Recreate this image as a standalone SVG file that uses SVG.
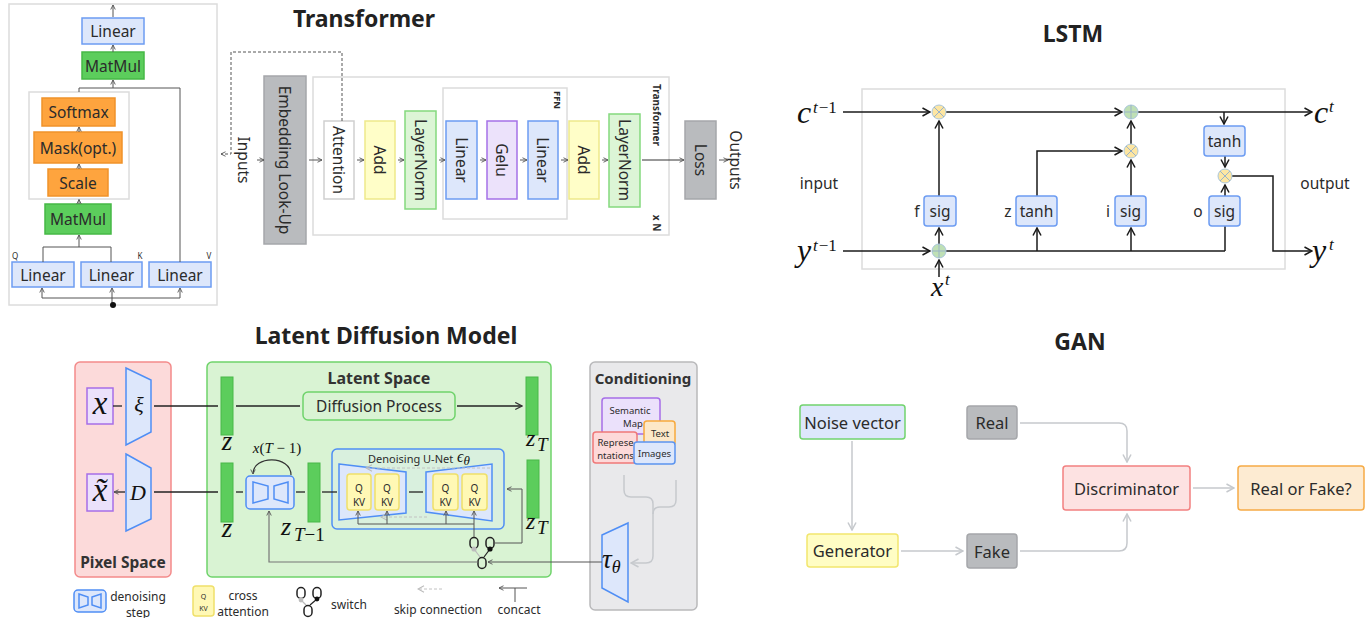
<svg xmlns="http://www.w3.org/2000/svg" width="1368" height="618" viewBox="0 0 1368 618">
<style>
text{font-family:"Noto Sans","DejaVu Sans",sans-serif;fill:#2b2b2b}
.t{font-size:15.5px;text-anchor:middle;dominant-baseline:central}
.title{font-size:23px;font-weight:700;text-anchor:middle;dominant-baseline:central;fill:#222}
.h{font-size:15.5px;font-weight:700;text-anchor:middle;dominant-baseline:central;fill:#333}
.sm{font-size:9.5px;text-anchor:middle;dominant-baseline:central}
.lg{font-size:12px;text-anchor:middle;dominant-baseline:central}
.m{font-family:"Liberation Serif","DejaVu Serif",serif;font-style:italic;fill:#111}
.mr{font-family:"Liberation Serif","DejaVu Serif",serif;font-style:normal;fill:#111}
.frame{fill:#fff;stroke:#dcdcdc;stroke-width:1.5}
.lin{fill:#dde7fb;stroke:#6c9cf2;stroke-width:1.5}
.mm{fill:#5ccd5c;stroke:#46b846;stroke-width:1.5}
.org{fill:#fea43e;stroke:#f0922a;stroke-width:1.5}
.add{fill:#fffec8;stroke:#eee98a;stroke-width:1.5}
.ln{fill:#dcf5d6;stroke:#84d97e;stroke-width:1.5}
.gelu{fill:#ece2fb;stroke:#a571e7;stroke-width:1.5}
.gray{fill:#b9bbbe;stroke:#a5a7aa;stroke-width:1.5}
.w{fill:none;stroke:#555;stroke-width:1}
.k{fill:none;stroke:#1a1a1a;stroke-width:1.5}
.gate{fill:#dde7fb;stroke:#6c9cf2;stroke-width:1.5}
.mul{fill:#fde6a2;stroke:#a9c6dc;stroke-width:1}
.plus{fill:#bfe0b5;stroke:#a9c6dc;stroke-width:1}
.cx{stroke:#9ab3c8;stroke-width:1;fill:none}
.enc{fill:#dde7fb;stroke:#4f8ef5;stroke-width:1.5}
.bar{fill:#5ccd5c;stroke:#49b849;stroke-width:1}
.qkv{fill:#fff8b5;stroke:#f0e06a;stroke-width:1.5}
.lat{fill:none;stroke:#222;stroke-width:1.3}
.sw{fill:none;stroke:#222;stroke-width:1.5}
.gl{fill:none;stroke:#c6c9cd;stroke-width:1.5}
</style>
<defs>
<marker id="a1" viewBox="0 0 8 8" refX="7" refY="4" markerWidth="6" markerHeight="6" orient="auto" markerUnits="userSpaceOnUse"><path d="M1,1 L7,4 L1,7" fill="none" stroke="#555" stroke-width="1.2"/></marker>
<marker id="ak" viewBox="0 0 10 10" refX="9" refY="5" markerWidth="10" markerHeight="10" orient="auto" markerUnits="userSpaceOnUse"><path d="M1.5,1 L9,5 L1.5,9" fill="none" stroke="#1a1a1a" stroke-width="1.5"/></marker>
<marker id="ag" viewBox="0 0 10 10" refX="9" refY="5" markerWidth="10" markerHeight="10" orient="auto" markerUnits="userSpaceOnUse"><path d="M1.5,1 L9,5 L1.5,9" fill="none" stroke="#c6c9cd" stroke-width="1.5"/></marker>
<marker id="am" viewBox="0 0 10 10" refX="9" refY="5" markerWidth="9" markerHeight="9" orient="auto" markerUnits="userSpaceOnUse"><path d="M1.5,1 L9,5 L1.5,9" fill="none" stroke="#333" stroke-width="1.3"/></marker>
<marker id="as" viewBox="0 0 10 10" refX="9" refY="5" markerWidth="8" markerHeight="8" orient="auto" markerUnits="userSpaceOnUse"><path d="M1.5,1 L9,5 L1.5,9" fill="none" stroke="#bbb" stroke-width="1.3"/></marker>
</defs>
<rect width="1368" height="618" fill="#fff"/>

<!-- ===== Transformer: scaled dot-product attention detail ===== -->
<g id="attn-frame"><rect x="9" y="4" width="208" height="301" class="frame"/></g>
<g id="attn-inner-frame"><rect x="29" y="92" width="100" height="107" class="frame"/></g>
<g id="attn-linear-out"><rect x="82" y="18" width="62" height="26" class="lin"/><text x="113" y="31" class="t">Linear</text></g>
<g id="attn-matmul-out"><rect x="82" y="52" width="62" height="27" class="mm"/><text x="113" y="65.5" class="t">MatMul</text></g>
<g id="attn-softmax"><rect x="42" y="98" width="73" height="28" class="org"/><text x="78.5" y="112" class="t">Softmax</text></g>
<g id="attn-mask"><rect x="34" y="132" width="88" height="31" class="org"/><text x="78" y="147.5" class="t">Mask(opt.)</text></g>
<g id="attn-scale"><rect x="48" y="169" width="60" height="27" class="org"/><text x="78" y="182.5" class="t">Scale</text></g>
<g id="attn-matmul-qk"><rect x="45" y="204" width="66" height="30" class="mm"/><text x="78" y="219" class="t">MatMul</text></g>
<g id="attn-linear-q"><rect x="12" y="262" width="62" height="25" class="lin"/><text x="43" y="274.5" class="t">Linear</text><text x="15" y="255" style="font-size:8px;text-anchor:middle;dominant-baseline:central">Q</text></g>
<g id="attn-linear-k"><rect x="81" y="262" width="61" height="25" class="lin"/><text x="111.5" y="274.5" class="t">Linear</text><text x="140" y="255" style="font-size:8px;text-anchor:middle;dominant-baseline:central">K</text></g>
<g id="attn-linear-v"><rect x="149" y="262" width="62" height="25" class="lin"/><text x="180" y="274.5" class="t">Linear</text><text x="209" y="255" style="font-size:8px;text-anchor:middle;dominant-baseline:central">V</text></g>
<g id="attn-connectors" class="w">
<path d="M113,17 V5" marker-end="url(#a1)"/>
<path d="M113,52 V45" marker-end="url(#a1)"/>
<path d="M79,92 V88 H180 V262"/>
<path d="M113,88 V80" marker-end="url(#a1)"/>
<path d="M79,132 V127" marker-end="url(#a1)"/>
<path d="M79,169 V164" marker-end="url(#a1)"/>
<path d="M79,204 V199.5" marker-end="url(#a1)"/>
<path d="M43,262 V247 H111 V262"/>
<path d="M79,247 V235" marker-end="url(#a1)"/>
<path d="M42,298 H180"/>
<path d="M42,298 V288" marker-end="url(#a1)"/>
<path d="M112,305 V288" marker-end="url(#a1)"/>
<path d="M180,298 V288" marker-end="url(#a1)"/>
<circle cx="113" cy="305" r="3" fill="#111" stroke="none"/>
</g>

<!-- ===== Transformer: main stack ===== -->
<text x="364" y="18" class="title">Transformer</text>
<g id="tf-frame"><rect x="313" y="77" width="356" height="158" class="frame"/>
<text transform="translate(657,115) rotate(90)" style="font-size:10px;font-weight:700;text-anchor:middle;dominant-baseline:central">Transformer</text>
<text transform="translate(657,223) rotate(90)" style="font-size:10px;font-weight:700;text-anchor:middle;dominant-baseline:central">x N</text></g>
<g id="tf-ffn-frame"><rect x="443" y="88" width="124" height="131" class="frame"/>
<text transform="translate(557,100) rotate(90)" style="font-size:9.5px;font-weight:700;text-anchor:middle;dominant-baseline:central">FFN</text></g>
<g id="tf-inputs"><text transform="translate(244,160) rotate(90)" class="t">Inputs</text></g>
<g id="tf-embedding"><rect x="264" y="76" width="42" height="168" class="gray"/><text transform="translate(285,160) rotate(90)" class="t">Embedding Look-Up</text></g>
<g id="tf-attention"><rect x="324" y="121" width="30" height="78" fill="#fff" stroke="#cfcfcf" stroke-width="1.5"/><text transform="translate(339,160) rotate(90)" class="t">Attention</text></g>
<g id="tf-add1"><rect x="365" y="121" width="30" height="78" class="add"/><text transform="translate(380,160) rotate(90)" class="t">Add</text></g>
<g id="tf-layernorm1"><rect x="405" y="111" width="31" height="98" class="ln"/><text transform="translate(420.5,160) rotate(90)" class="t">LayerNorm</text></g>
<g id="tf-linear1"><rect x="446" y="121" width="31" height="78" class="lin"/><text transform="translate(461.5,160) rotate(90)" class="t">Linear</text></g>
<g id="tf-gelu"><rect x="487" y="121" width="30" height="78" class="gelu"/><text transform="translate(502,160) rotate(90)" class="t">Gelu</text></g>
<g id="tf-linear2"><rect x="528" y="121" width="30" height="78" class="lin"/><text transform="translate(543,160) rotate(90)" class="t">Linear</text></g>
<g id="tf-add2"><rect x="569" y="121" width="30" height="78" class="add"/><text transform="translate(584,160) rotate(90)" class="t">Add</text></g>
<g id="tf-layernorm2"><rect x="609" y="114" width="31" height="93" class="ln"/><text transform="translate(624.5,160) rotate(90)" class="t">LayerNorm</text></g>
<g id="tf-loss"><rect x="685" y="121" width="31" height="78" class="gray"/><text transform="translate(700.5,160) rotate(90)" class="t">Loss</text></g>
<g id="tf-outputs"><text transform="translate(736,160) rotate(90)" class="t">Outputs</text></g>
<g id="tf-connectors" class="w">
<path d="M342,121 V52 H231 V154 H221" stroke-dasharray="3,2" marker-end="url(#a1)"/>
<path d="M257,160 H264" marker-end="url(#a1)"/>
<path d="M309,160 H322" marker-end="url(#a1)"/>
<path d="M357,160 H364" marker-end="url(#a1)"/>
<path d="M398,160 H404" marker-end="url(#a1)"/>
<path d="M439,160 H445" marker-end="url(#a1)"/>
<path d="M480,160 H486" marker-end="url(#a1)"/>
<path d="M520,160 H527" marker-end="url(#a1)"/>
<path d="M561,160 H568" marker-end="url(#a1)"/>
<path d="M602,160 H608" marker-end="url(#a1)"/>
<path d="M642,160 H684" stroke="#333" marker-end="url(#a1)"/>
<path d="M719,160 H728" marker-end="url(#a1)"/>
</g>

<!-- ===== LSTM cell ===== -->
<text x="1073" y="33" class="title">LSTM</text>
<g id="lstm-frame"><rect x="862" y="89" width="423" height="180" class="frame"/></g>
<g id="lstm-connectors" class="k">
<path d="M843,112 H930" marker-end="url(#ak)"/>
<path d="M946,112 H1122" marker-end="url(#ak)"/>
<path d="M1138,112 H1312" marker-end="url(#ak)"/>
<path d="M1224,112 V124" marker-end="url(#ak)"/>
<path d="M1225,156 V167" marker-end="url(#ak)"/>
<path d="M1232,176 H1273 V251 H1312" marker-end="url(#ak)"/>
<path d="M1225,251 V197" marker-end="url(#ak)"/>
<path d="M1225,196 V185" marker-end="url(#ak)"/>
<path d="M843,251 H930" marker-end="url(#ak)"/>
<path d="M939,277 V260" marker-end="url(#ak)"/>
<path d="M939,244 V228" marker-end="url(#ak)"/>
<path d="M939,196 V121" marker-end="url(#ak)"/>
<path d="M946,251 H1225"/>
<path d="M1037,251 V228" marker-end="url(#ak)"/>
<path d="M1131,251 V228" marker-end="url(#ak)"/>
<path d="M1037,196 V151 H1122" marker-end="url(#ak)"/>
<path d="M1131,196 V160" marker-end="url(#ak)"/>
<path d="M1131,144 V121" marker-end="url(#ak)"/>
</g>
<g id="lstm-mul-f"><circle cx="939" cy="112" r="7" class="mul"/><path d="M934,107 L944,117 M944,107 L934,117" class="cx"/></g>
<g id="lstm-add-c"><circle cx="1131" cy="112" r="7" class="plus"/><path d="M1124,112 H1138 M1131,105 V119" class="cx"/></g>
<g id="lstm-mul-i"><circle cx="1131" cy="151" r="7" class="mul"/><path d="M1126,146 L1136,156 M1136,146 L1126,156" class="cx"/></g>
<g id="lstm-mul-o"><circle cx="1225" cy="176" r="7" class="mul"/><path d="M1220,171 L1230,181 M1230,171 L1220,181" class="cx"/></g>
<g id="lstm-add-in"><circle cx="939" cy="251" r="7" class="plus"/><path d="M932,251 H946 M939,244 V258" class="cx"/></g>
<g id="lstm-f"><rect x="924" y="196" width="32" height="30" rx="3" class="gate"/><text x="940" y="211" class="t">sig</text><text x="917" y="211" class="t">f</text></g>
<g id="lstm-z"><rect x="1016" y="196" width="41" height="30" rx="3" class="gate"/><text x="1036.5" y="211" class="t">tanh</text><text x="1008" y="211" class="t">z</text></g>
<g id="lstm-i"><rect x="1115" y="196" width="31" height="30" rx="3" class="gate"/><text x="1130.5" y="211" class="t">sig</text><text x="1108" y="211" class="t">i</text></g>
<g id="lstm-o"><rect x="1209" y="196" width="31" height="30" rx="3" class="gate"/><text x="1224.5" y="211" class="t">sig</text><text x="1198" y="211" class="t">o</text></g>
<g id="lstm-tanh-c"><rect x="1204" y="126" width="41" height="30" rx="3" class="gate"/><text x="1224.5" y="141" class="t">tanh</text></g>
<g id="lstm-labels">
<text x="819" y="183" class="t">input</text>
<text x="1325" y="183" class="t">output</text>
<text x="797" y="123" class="m" font-size="32">c</text>
<text x="813" y="113" font-size="17"><tspan class="m">t</tspan><tspan class="mr" dx="1">−1</tspan></text>
<text x="797" y="261" class="m" font-size="32">y</text>
<text x="813" y="251" font-size="17"><tspan class="m">t</tspan><tspan class="mr" dx="1">−1</tspan></text>
<text x="931" y="296" class="m" font-size="28">x</text>
<text x="945" y="285" class="m" font-size="17">t</text>
<text x="1314" y="123" class="m" font-size="32">c</text>
<text x="1329" y="112" class="m" font-size="17">t</text>
<text x="1312" y="261" class="m" font-size="32">y</text>
<text x="1329" y="250" class="m" font-size="17">t</text>
</g>

<!-- ===== Latent Diffusion Model ===== -->
<text x="386" y="335" class="title">Latent Diffusion Model</text>

<g id="pixel-space">
<rect x="75" y="362" width="96" height="215" rx="5" fill="#fcdada" stroke="#f38b8b" stroke-width="1.5"/>
<text x="123" y="562" class="h">Pixel Space</text>
</g>
<g id="latent-space">
<rect x="207" y="362" width="344" height="215" rx="5" fill="#d9f3d3" stroke="#6fd36b" stroke-width="1.5"/>
<text x="379" y="378" class="h" style="font-size:16px">Latent Space</text>
</g>
<g id="conditioning">
<rect x="590" y="362" width="107" height="248" rx="5" fill="#e9e9eb" stroke="#b9b9bb" stroke-width="1.5"/>
<text x="643" y="378" class="h" style="font-size:15px">Conditioning</text>
</g>

<g id="pix-x"><rect x="87" y="388" width="26" height="36" fill="#ebe1fb" stroke="#a66ee8" stroke-width="1.5"/><text x="100" y="414" class="m" font-size="33" text-anchor="middle">x</text></g>
<g id="pix-encoder"><polygon points="126,368 151,380 151,432 126,445" class="enc"/><text x="139" y="412" class="m" font-size="22" text-anchor="middle">ξ</text></g>
<g id="pix-xtilde"><rect x="87" y="474" width="26" height="37" fill="#ebe1fb" stroke="#a66ee8" stroke-width="1.5"/><text x="100" y="501" class="m" font-size="33" text-anchor="middle">x̃</text></g>
<g id="pix-decoder"><polygon points="126,454 151,468 151,519 126,531" class="enc"/><text x="138" y="500" class="m" font-size="22" text-anchor="middle">D</text></g>

<g id="lat-z-top"><rect x="221" y="377" width="12" height="58" class="bar"/><text x="227" y="450" class="m" font-size="27" text-anchor="middle">z</text></g>
<g id="lat-diffusion"><rect x="303" y="392" width="152" height="28" rx="5" fill="#d9f3d3" stroke="#6fd36b" stroke-width="1.5"/><text x="379" y="406" class="t">Diffusion Process</text></g>
<g id="lat-zt-top"><rect x="526" y="377" width="12" height="58" class="bar"/><text x="526" y="446" class="m" font-size="24">z</text><text x="537" y="451" class="m" font-size="19">T</text></g>
<g id="lat-z-bottom"><rect x="221" y="463" width="12" height="59" class="bar"/><text x="227" y="537" class="m" font-size="27" text-anchor="middle">z</text></g>
<g id="lat-step">
<rect x="246" y="476" width="48" height="33" rx="4" class="enc"/>
<polygon points="253,482 268,486 268,499 253,503" class="enc"/>
<polygon points="274,486 288,482 288,503 274,499" class="enc"/>
<text x="277" y="453" class="m" font-size="15" text-anchor="middle">x<tspan class="mr">(</tspan>T<tspan class="mr"> − 1)</tspan></text>
</g>
<g id="lat-zt1"><rect x="308" y="463" width="12" height="59" class="bar"/><text x="281" y="535" class="m" font-size="26">z</text><text x="294" y="541" font-size="19"><tspan class="m">T</tspan><tspan class="mr">−1</tspan></text></g>
<g id="lat-unet">
<rect x="332" y="449" width="172" height="80" rx="5" fill="#d9f0de" stroke="#4f8ef5" stroke-width="1.5"/>
<text x="368" y="458" style="font-size:11px;dominant-baseline:central">Denoising U-Net</text>
<text x="457" y="462" class="m" font-size="16">ϵ<tspan font-size="13" dy="3">θ</tspan></text>
<polygon points="339,464 406,472 406,513 339,520" class="enc"/>
<polygon points="426,472 492,464 492,521 426,512" class="enc"/>
</g>
<g id="lat-qkv1"><rect x="347" y="474" width="24" height="36" rx="3" class="qkv"/><text x="359" y="488" style="font-size:10px;text-anchor:middle;dominant-baseline:central">Q</text><text x="359" y="502" style="font-size:10px;text-anchor:middle;dominant-baseline:central">KV</text></g>
<g id="lat-qkv2"><rect x="375" y="474" width="24" height="36" rx="3" class="qkv"/><text x="387" y="488" style="font-size:10px;text-anchor:middle;dominant-baseline:central">Q</text><text x="387" y="502" style="font-size:10px;text-anchor:middle;dominant-baseline:central">KV</text></g>
<g id="lat-qkv3"><rect x="433" y="474" width="25" height="36" rx="3" class="qkv"/><text x="445.5" y="488" style="font-size:10px;text-anchor:middle;dominant-baseline:central">Q</text><text x="445.5" y="502" style="font-size:10px;text-anchor:middle;dominant-baseline:central">KV</text></g>
<g id="lat-qkv4"><rect x="462" y="474" width="25" height="36" rx="3" class="qkv"/><text x="474.5" y="488" style="font-size:10px;text-anchor:middle;dominant-baseline:central">Q</text><text x="474.5" y="502" style="font-size:10px;text-anchor:middle;dominant-baseline:central">KV</text></g>
<g id="lat-zt-bottom"><rect x="527" y="460" width="12" height="58" class="bar"/><text x="526" y="529" class="m" font-size="24">z</text><text x="537" y="534" class="m" font-size="19">T</text></g>
<g id="lat-switch">
<rect x="470" y="537.5" width="8" height="11" rx="4" class="sw"/>
<rect x="486" y="537.5" width="8" height="11" rx="4" class="sw"/>
<rect x="478" y="557.5" width="8" height="11" rx="4" class="sw"/>
<path d="M474,549 L480,557" stroke="#bbb" stroke-width="1.2"/>
<path d="M490,549 L484,557" stroke="#222" stroke-width="1.2"/>
<circle cx="474" cy="549" r="2.6" fill="#bdbdbd"/>
<circle cx="490" cy="549" r="2.6" fill="#111"/>
</g>

<g id="cond-semantic"><rect x="602" y="398" width="58" height="36" rx="3" fill="#ebe1fb" stroke="#a66ee8" stroke-width="1.5"/><text x="630" y="410" class="sm">Semantic</text><text x="633" y="423" class="sm">Map</text></g>
<g id="cond-text"><rect x="644" y="421" width="31" height="24" rx="3" fill="#fde8c8" stroke="#f7a93d" stroke-width="1.5"/><text x="660" y="433" class="sm">Text</text></g>
<g id="cond-repr"><rect x="593" y="432" width="44" height="31" rx="3" fill="#fdd9d9" stroke="#f07878" stroke-width="1.5"/><text x="615.5" y="442" class="sm">Represe</text><text x="615.5" y="455" class="sm">ntations</text></g>
<g id="cond-images"><rect x="634" y="442" width="41" height="22" rx="3" fill="#dde7fb" stroke="#5b94ef" stroke-width="1.5"/><text x="654.5" y="453.5" class="sm">Images</text></g>
<g id="cond-tau"><polygon points="602,535 628,523 628,602 602,588" class="enc"/><text x="602" y="568" class="m" font-size="27">τ<tspan font-size="18" dy="5">θ</tspan></text></g>

<g id="ldm-connectors">
<path d="M113,406 H122" class="lat"/>
<path d="M154,406 H218" class="lat"/>
<path d="M236,406 H300" class="lat"/>
<path d="M457,406 H522" class="lat" marker-end="url(#am)"/>
<path d="M125,492 H114" class="lat" stroke-width="1" marker-end="url(#a1)"/>
<path d="M154,492 H218" class="lat"/>
<path d="M236,492 H243" class="lat"/>
<path d="M296,492 H305" class="lat"/>
<path d="M322,492 H337" class="lat"/>
<path d="M409,492 H423" class="lat"/>
<path d="M291,475 C291,455 253,455 253,474" fill="none" stroke="#333" stroke-width="1.2" marker-end="url(#a1)"/>
<path d="M490,468 H366" fill="none" stroke="#c2c2c2" stroke-width="1" stroke-dasharray="3,2" marker-end="url(#as)"/>
<path d="M427,517 H381" fill="none" stroke="#c2c2c2" stroke-width="1" stroke-dasharray="3,2" marker-end="url(#as)"/>
<path d="M474,537 V511" class="w" marker-end="url(#a1)"/>
<path d="M474,524 H358 V511" class="w" marker-end="url(#a1)"/>
<path d="M387,524 V511" class="w" marker-end="url(#a1)"/>
<path d="M446,524 V511" class="w" marker-end="url(#a1)"/>
<path d="M494,543 H522 V489 H507" class="w" marker-end="url(#a1)"/>
<path d="M478,562 H269 V511" fill="none" stroke="#777" stroke-width="1.2" marker-end="url(#a1)"/>
<path d="M602,562 H488" class="w" stroke="#333" marker-end="url(#a1)"/>
<path d="M624,475 V490 Q624,497 631,497 H646 Q653,497 653,504 V556 Q653,563 646,563 H631" class="gl" marker-end="url(#ag)"/>
<path d="M676,480 V500 Q676,507 669,507 H660 Q653,507 653,514" class="gl"/>
</g>

<!-- legend -->
<g id="legend-step"><rect x="74" y="590" width="32" height="22" rx="4" class="enc"/><polygon points="79,594 88,597 88,605 79,608" class="enc"/><polygon points="92,597 101,594 101,608 92,605" class="enc"/><text x="138" y="596" class="lg">denoising</text><text x="138" y="612" class="lg">step</text></g>
<g id="legend-cross"><rect x="193" y="586" width="21" height="30" rx="3" class="qkv"/><text x="203.5" y="596" style="font-size:7px;text-anchor:middle;dominant-baseline:central">Q</text><text x="203.5" y="608" style="font-size:7px;text-anchor:middle;dominant-baseline:central">KV</text><text x="243" y="595" class="lg">cross</text><text x="243" y="611" class="lg">attention</text></g>
<g id="legend-switch">
<rect x="297" y="587.5" width="8" height="11" rx="4" class="sw"/>
<rect x="313" y="587.5" width="8" height="11" rx="4" class="sw"/>
<rect x="304" y="605.5" width="8" height="11" rx="4" class="sw"/>
<path d="M301,600 L306,605" stroke="#bbb" stroke-width="1.2"/>
<path d="M317,599 L310,605" stroke="#222" stroke-width="1.2"/>
<circle cx="301" cy="600" r="2.4" fill="#bdbdbd"/><circle cx="317" cy="599" r="2.4" fill="#111"/>
<text x="349" y="604" class="lg">switch</text></g>
<g id="legend-skip"><path d="M442,589 H418" fill="none" stroke="#c2c2c2" stroke-width="1" stroke-dasharray="3,2" marker-end="url(#as)"/><text x="438" y="609" class="lg">skip connection</text></g>
<g id="legend-concat"><path d="M527,588 H499" class="w" stroke="#333" marker-end="url(#a1)"/><path d="M515,588 V602" class="w" stroke="#333"/><text x="519" y="609" class="lg">concact</text></g>

<!-- ===== GAN ===== -->
<text x="1080" y="341" class="title">GAN</text>
<g id="gan-connectors">
<path d="M852,441 V530" class="gl" marker-end="url(#ag)"/>
<path d="M901,551 H963" class="gl" marker-end="url(#ag)"/>
<path d="M1020,423 H1119 Q1127,423 1127,431 V462" class="gl" marker-end="url(#ag)"/>
<path d="M1020,551 H1119 Q1127,551 1127,543 V514" class="gl" marker-end="url(#ag)"/>
<path d="M1193,488 H1234" class="gl" marker-end="url(#ag)"/>
</g>
<g id="gan-noise"><rect x="800" y="405" width="105" height="34" rx="3" fill="#dde7fb" stroke="#72d36e" stroke-width="1.5"/><text x="852.5" y="422" class="t" style="font-size:16.5px">Noise vector</text></g>
<g id="gan-generator"><rect x="807" y="534" width="91" height="33" rx="3" fill="#fffdc4" stroke="#f2e66e" stroke-width="1.5"/><text x="852.5" y="550.5" class="t" style="font-size:16.5px">Generator</text></g>
<g id="gan-real"><rect x="967" y="406" width="50" height="33" rx="3" class="gray"/><text x="992" y="422.5" class="t" style="font-size:16.5px">Real</text></g>
<g id="gan-fake"><rect x="967" y="534" width="50" height="34" rx="3" class="gray"/><text x="992" y="551" class="t" style="font-size:16.5px">Fake</text></g>
<g id="gan-discriminator"><rect x="1063" y="466" width="127" height="44" rx="3" fill="#fde2e2" stroke="#f28080" stroke-width="1.5"/><text x="1126.5" y="488" class="t" style="font-size:16.5px">Discriminator</text></g>
<g id="gan-output"><rect x="1238" y="466" width="126" height="44" rx="3" fill="#fdebd2" stroke="#f6ab45" stroke-width="1.5"/><text x="1301" y="488" class="t" style="font-size:16.5px">Real or Fake?</text></g>
</svg>
